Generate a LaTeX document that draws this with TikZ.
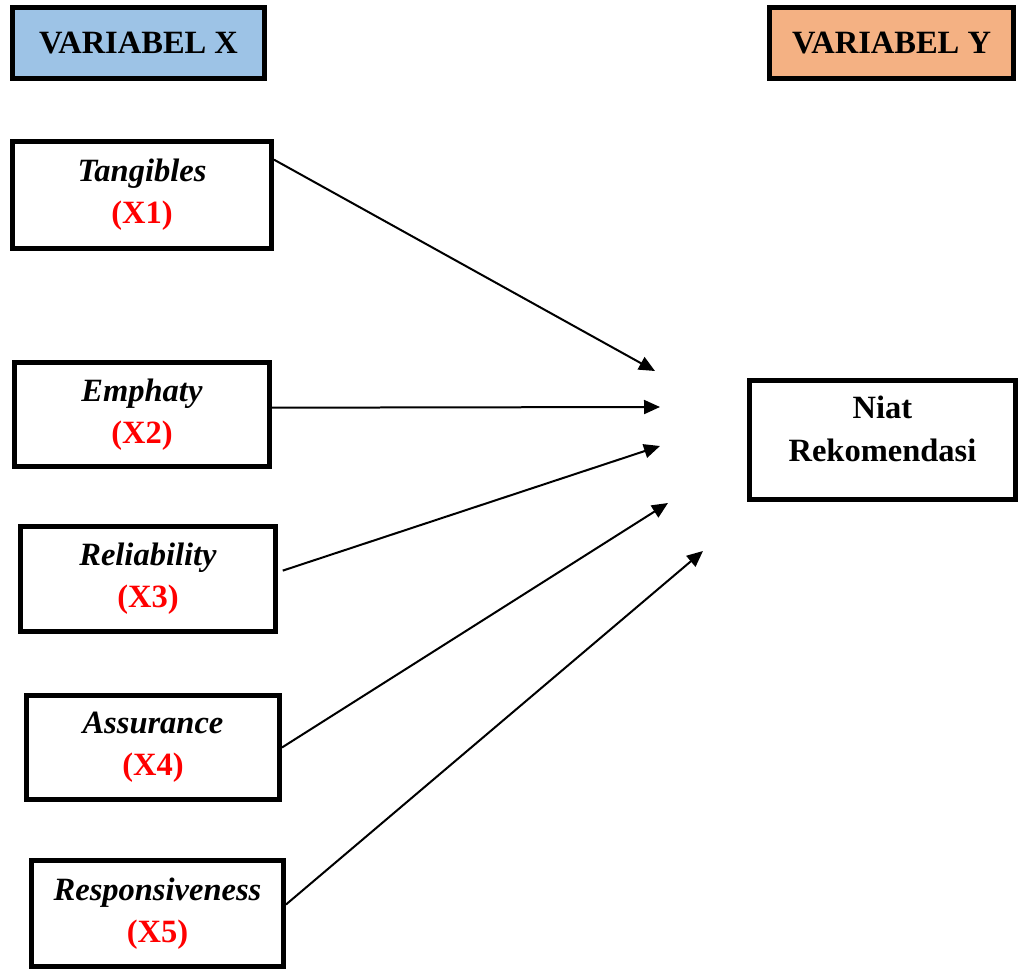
\documentclass[tikz,border=0pt]{standalone}
\usepackage{fontspec}
\setmainfont{Liberation Serif}
\usepackage{xcolor}
\usetikzlibrary{arrows.meta,positioning,calc}
\definecolor{HeadBlue}{RGB}{157,195,230}
\definecolor{HeadSalmon}{RGB}{244,177,131}
\definecolor{CodeRed}{RGB}{255,0,0}
\tikzset{
  vbox/.style={draw=black,fill=white,line width=0.1cm,
               minimum width=5.1cm,minimum height=2.1cm,
               font=\fontsize{18.5}{24}\selectfont\bfseries,align=center,inner sep=0pt},
  hbox/.style={vbox,minimum height=1.42cm},
  arr/.style={-{Triangle[length=0.32cm,width=0.28cm]},black,line width=0.04cm},
}
\newcommand{\code}[1]{{\color{CodeRed}#1}}
\begin{document}
\begin{tikzpicture}[x=0.02cm,y=-0.02cm]
  \useasboundingbox (0,0) rectangle (1018,970);
  \node[hbox, fill=HeadBlue, minimum width=5.04cm] (varx) at (138.5,43) {VARIABEL X};
  \node[hbox, fill=HeadSalmon, minimum width=4.88cm] (vary) at (891.5,43) {VARIABEL Y};

  \node[vbox, minimum width=5.18cm, minimum height=2.16cm] (tang) at (142,195) {\textit{Tangibles}\\\code{(X1)}};
  \node[vbox, minimum height=2.08cm] (emph) at (142,414.5) {\textit{Emphaty}\\\code{(X2)}};
  \node[vbox] (reli) at (148,579) {\textit{Reliability}\\\code{(X3)}};
  \node[vbox, minimum width=5.06cm, minimum height=2.08cm] (assu) at (153,747.5) {\textit{Assurance}\\\code{(X4)}};
  \node[vbox, minimum width=5.04cm, minimum height=2.12cm] (resp) at (157.5,913.5) {\textit{Responsiveness}\\\code{(X5)}};
  \node[vbox, minimum width=5.32cm, minimum height=2.38cm, text depth=0.45cm] (niat) at (882.5,440) {Niat\\Rekomendasi};

  \coordinate (t1) at (655,371);
  \coordinate (t2) at (660,407);
  \coordinate (t3) at (660,446);
  \coordinate (t4) at (668,503);
  \coordinate (t5) at (703,551);

  \draw[arr] (tang.15) -- (t1);
  \draw[arr] (emph.3) -- (t2);
  \draw[arr, shorten <=0.1cm] (reli.3) -- (t3);
  \draw[arr] (assu.east) -- (t4);
  \draw[arr] (resp.4) -- (t5);
\end{tikzpicture}
\end{document}
